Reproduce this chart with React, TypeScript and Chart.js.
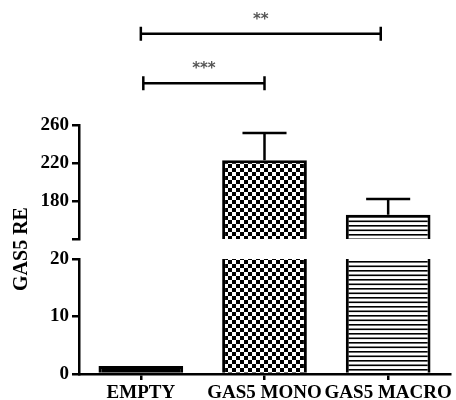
import { useEffect, useRef } from 'react';
import { Chart, registerables } from 'chart.js';

Chart.register(...registerables);

const categories = ['EMPTY', 'GAS5 MONO', 'GAS5 MACRO'];
const meanValues = [1.4, 223, 165.5];
const errorValues = [0, 28.5, 16.5];
const lowerRange = [0, 20];
const upperRange = [140, 260];
const lowerTicks = [0, 10, 20];
const upperTicks = [140, 180, 220, 260];
const upperTickLabels = ['', '180', '220', '260'];
const bracketFrom = [0, 0.02];
const bracketTo = [1.94, 1];
const bracketHeights = [356, 304];
const bracketLabels = ['**', '***'];
const yTitle = 'GAS5 RE';

const FONT = "'Liberation Serif', 'Times New Roman', serif";

function makeChecker(ctx: CanvasRenderingContext2D, cell: number) {
  const c = document.createElement('canvas');
  c.width = cell * 2;
  c.height = cell * 2;
  const g = c.getContext('2d')!;
  g.fillStyle = '#fff';
  g.fillRect(0, 0, cell * 2, cell * 2);
  g.fillStyle = '#000';
  g.fillRect(0, 0, cell, cell);
  g.fillRect(cell, cell, cell, cell);
  return ctx.createPattern(c, 'repeat')!;
}

function makeLines(ctx: CanvasRenderingContext2D) {
  const c = document.createElement('canvas');
  c.width = 4;
  c.height = 9;
  const g = c.getContext('2d')!;
  g.fillStyle = '#fff';
  g.fillRect(0, 0, 4, 9);
  g.fillStyle = '#000';
  g.fillRect(0, 0, 4, 1.6);
  g.fillRect(0, 4.5, 4, 1.6);
  return ctx.createPattern(c, 'repeat')!;
}

const segmentClip = {
  id: 'segmentClip',
  beforeDatasetDraw(chart: any, args: any) {
    const scale = chart.scales[args.meta.yAxisID];
    const { left, right } = chart.chartArea;
    const ctx = chart.ctx;
    ctx.save();
    ctx.beginPath();
    ctx.rect(left, scale.top, right - left, scale.bottom - scale.top);
    ctx.clip();
  },
  afterDatasetDraw(chart: any) {
    chart.ctx.restore();
  },
};

const errorBars = {
  id: 'errorBars',
  afterDatasetsDraw(chart: any) {
    const ctx = chart.ctx;
    const xs = chart.scales.x;
    const up = chart.scales.yUpper;
    const lo = chart.scales.y;
    const meta = chart.getDatasetMeta(1);
    meanValues.forEach((v, i) => {
      const e = errorValues[i];
      if (!e) return;
      const sc = v >= upperRange[0] ? up : lo;
      const px = xs.getPixelForValue(i);
      const y0 = sc.getPixelForValue(v);
      const y1 = sc.getPixelForValue(v + e);
      const half = meta.data[i].width * 0.26;
      ctx.save();
      ctx.strokeStyle = '#000';
      ctx.lineWidth = 2.5;
      ctx.beginPath();
      ctx.moveTo(px, y0);
      ctx.lineTo(px, y1);
      ctx.moveTo(px - half, y1);
      ctx.lineTo(px + half, y1);
      ctx.stroke();
      ctx.restore();
    });
  },
};

const brackets = {
  id: 'brackets',
  afterDraw(chart: any) {
    const ctx = chart.ctx;
    const xs = chart.scales.x;
    const up = chart.scales.yUpper;
    bracketLabels.forEach((label, i) => {
      const x0 = xs.getPixelForValue(bracketFrom[i]);
      const x1 = xs.getPixelForValue(bracketTo[i]);
      const y = up.getPixelForValue(bracketHeights[i]);
      ctx.save();
      ctx.strokeStyle = '#000';
      ctx.lineWidth = 2.5;
      ctx.beginPath();
      ctx.moveTo(x0, y);
      ctx.lineTo(x1, y);
      ctx.moveTo(x0, y - 7);
      ctx.lineTo(x0, y + 7);
      ctx.moveTo(x1, y - 7);
      ctx.lineTo(x1, y + 7);
      ctx.stroke();
      ctx.fillStyle = '#555';
      ctx.font = "bold 15px 'DejaVu Sans', sans-serif";
      ctx.textAlign = 'center';
      ctx.textBaseline = 'middle';
      ctx.fillText(label, (x0 + x1) / 2, y - 14);
      ctx.restore();
    });
  },
};

const tickFont = { family: FONT, size: 19, weight: 'bold' as const };

export default function App() {
  const ref = useRef<HTMLCanvasElement>(null);
  useEffect(() => {
    const canvas = ref.current!;
    const ctx = canvas.getContext('2d')!;
    const checker = makeChecker(ctx, 4);
    const lines = makeLines(ctx);
    const fills = ['#000', checker, lines];
    const yAxisCommon = {
      type: 'linear' as const,
      position: 'left' as const,
      stack: 'seg',
      grid: { drawOnChartArea: false, tickLength: 7, color: '#000', lineWidth: 2.5 },
      border: { display: true, color: '#000', width: 2.5 },
      afterFit(s: any) {
        s.width = 73;
      },
      z: 1,
    };
    const chart = new Chart(ctx, {
      type: 'bar',
      data: {
        labels: categories,
        datasets: [
          {
            data: meanValues,
            yAxisID: 'y',
            backgroundColor: fills as any,
            borderColor: '#000',
            borderWidth: 3,
            grouped: false,
            categoryPercentage: 1,
            barPercentage: 0.685,
          },
          {
            data: meanValues,
            yAxisID: 'yUpper',
            backgroundColor: fills as any,
            borderColor: '#000',
            borderWidth: 3,
            grouped: false,
            categoryPercentage: 1,
            barPercentage: 0.685,
          },
        ],
      },
      options: {
        animation: false,
        responsive: true,
        maintainAspectRatio: false,
        layout: { padding: { top: 125, left: 6, right: 6, bottom: 0 } },
        plugins: { legend: { display: false }, tooltip: { enabled: false } },
        scales: {
          x: {
            type: 'category',
            offset: true,
            grid: {
              display: true,
              offset: false,
              drawOnChartArea: false,
              tickLength: 6,
              color: '#000',
              lineWidth: 2.5,
            },
            border: { display: true, color: '#000', width: 2.5 },
            ticks: { color: '#000', font: tickFont, padding: 2, maxRotation: 0, autoSkip: false },
            afterFit(s: any) {
              s.height = 26;
            },
            z: 1,
          },
          y: {
            ...yAxisCommon,
            stackWeight: 115,
            weight: 1,
            min: lowerRange[0],
            max: lowerRange[1],
            afterBuildTicks(s: any) {
              s.ticks = lowerTicks.map((v) => ({ value: v }));
            },
            ticks: { color: '#000', font: tickFont, padding: 3, autoSkip: false },
          },
          yGap: {
            type: 'linear',
            position: 'left',
            stack: 'seg',
            stackWeight: 20,
            weight: 2,
            min: 0,
            max: 1,
            grid: { display: false },
            border: { display: false },
            ticks: { display: false },
            title: {
              display: true,
              text: yTitle,
              color: '#000',
              font: { family: FONT, size: 20, weight: 'bold' },
              padding: { top: 4, bottom: 0 },
            },
            afterFit(s: any) {
              s.width = 73;
            },
          },
          yUpper: {
            ...yAxisCommon,
            stackWeight: 114,
            weight: 3,
            min: upperRange[0],
            max: upperRange[1],
            afterBuildTicks(s: any) {
              s.ticks = upperTicks.map((v) => ({ value: v }));
            },
            ticks: {
              color: '#000',
              font: tickFont,
              padding: 3,
              autoSkip: false,
              callback: (_v: any, i: number) => upperTickLabels[i],
            },
          },
        } as any,
      },
      plugins: [segmentClip, errorBars, brackets],
    });
    return () => chart.destroy();
  }, []);
  return (
    <div style={{ position: 'fixed', left: 0, top: 0, width: 456, height: 400 }}>
      <canvas ref={ref} />
    </div>
  );
}
